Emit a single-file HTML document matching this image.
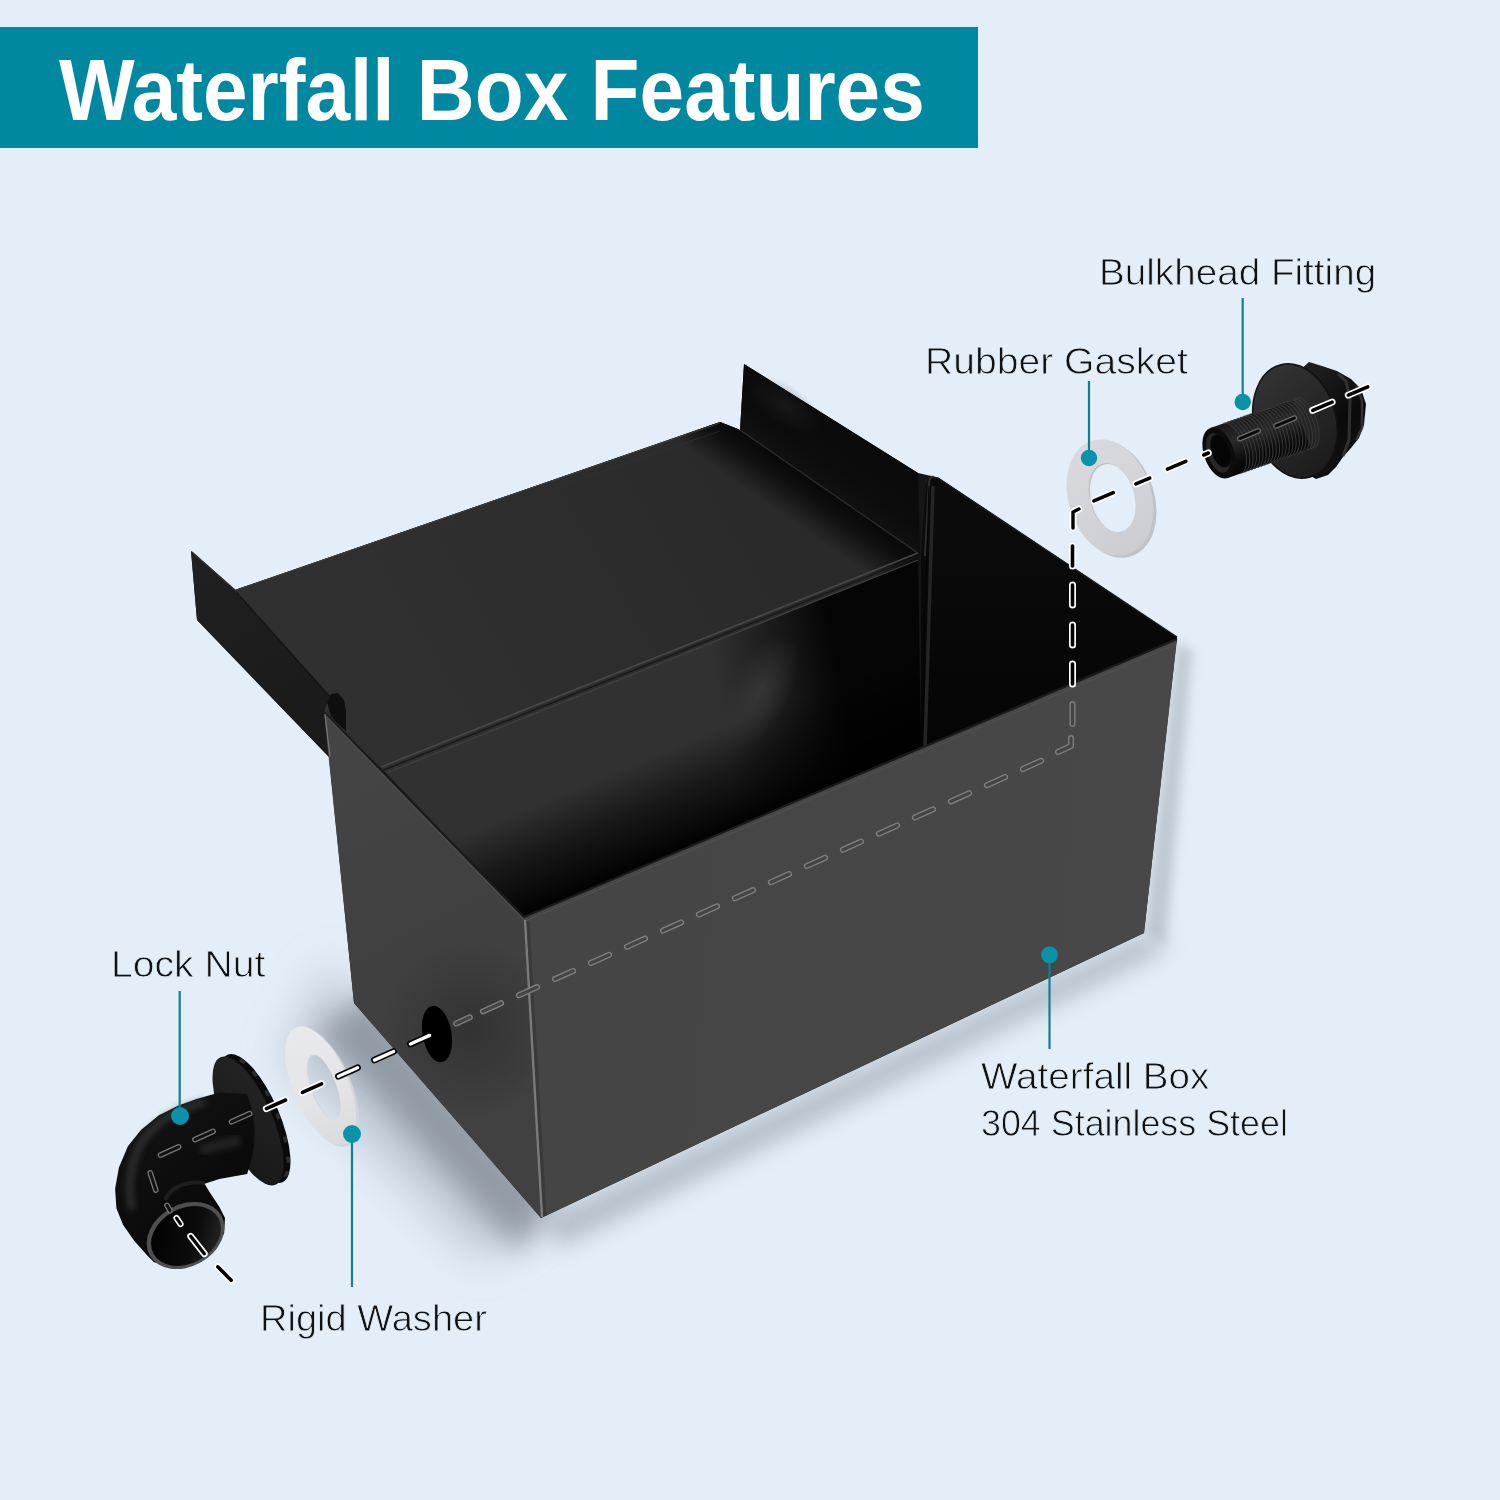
<!DOCTYPE html>
<html><head><meta charset="utf-8">
<style>
html,body{margin:0;padding:0;}
body{width:1500px;height:1500px;overflow:hidden;background:#E3EEF8;position:relative;font-family:"Liberation Sans",sans-serif;}
#banner{position:absolute;left:0;top:27px;width:978px;height:121px;background:#0088A0;}
.t{position:absolute;white-space:nowrap;color:#111;font-family:"Liberation Sans",sans-serif;transform-origin:0 0;line-height:1;}
#title{color:#fff;font-weight:bold;font-size:88px;}
.lb{font-size:36.5px;-webkit-text-stroke:0.8px #E3EEF8;}
svg{position:absolute;left:0;top:0;}
</style></head>
<body>
<svg width="1500" height="1500" viewBox="0 0 1500 1500">
<defs>
<filter id="b20" x="-50%" y="-50%" width="200%" height="200%"><feGaussianBlur stdDeviation="22"/></filter>
<filter id="b12" x="-50%" y="-50%" width="200%" height="200%"><feGaussianBlur stdDeviation="11"/></filter>
<filter id="b14" x="-50%" y="-50%" width="200%" height="200%"><feGaussianBlur stdDeviation="14"/></filter>
<filter id="b6" x="-50%" y="-50%" width="200%" height="200%"><feGaussianBlur stdDeviation="6"/></filter>
<filter id="b3" x="-50%" y="-50%" width="200%" height="200%"><feGaussianBlur stdDeviation="3"/></filter>
<filter id="b1" x="-50%" y="-50%" width="200%" height="200%"><feGaussianBlur stdDeviation="1.2"/></filter>
<linearGradient id="gLid" gradientUnits="userSpaceOnUse" x1="380" y1="700" x2="760" y2="480">
 <stop offset="0" stop-color="#303030"/><stop offset="1" stop-color="#2a2a2a"/></linearGradient>
<linearGradient id="gLidSh" gradientUnits="userSpaceOnUse" x1="829" y1="491.5" x2="803" y2="529">
 <stop offset="0" stop-color="#080808" stop-opacity="1"/><stop offset="0.4" stop-color="#080808" stop-opacity="0.75"/><stop offset="1" stop-color="#080808" stop-opacity="0"/></linearGradient>
<clipPath id="cLid"><polygon points="235,590 720,422 738,429 918,553 918,560 386,773 324,712 330,695"/></clipPath>
<radialGradient id="gRFh"><stop offset="0" stop-color="#2a2a2a" stop-opacity="0.8"/><stop offset="1" stop-color="#2a2a2a" stop-opacity="0"/></radialGradient>
<linearGradient id="gRF" gradientUnits="userSpaceOnUse" x1="760" y1="520" x2="860" y2="380">
 <stop offset="0" stop-color="#1c1c1c"/><stop offset="0.5" stop-color="#0c0c0c"/><stop offset="1" stop-color="#070707"/></linearGradient>
<linearGradient id="gLF" gradientUnits="userSpaceOnUse" x1="200" y1="560" x2="320" y2="740">
 <stop offset="0" stop-color="#202020"/><stop offset="1" stop-color="#1a1a1a"/></linearGradient>
<linearGradient id="gBaf" gradientUnits="userSpaceOnUse" x1="720" y1="700" x2="840" y2="680">
 <stop offset="0" stop-color="#323132"/><stop offset="0.45" stop-color="#1e1e1e"/><stop offset="1" stop-color="#050505"/></linearGradient>
<linearGradient id="gBafV" gradientUnits="userSpaceOnUse" x1="700" y1="843" x2="662" y2="752">
 <stop offset="0" stop-color="#000" stop-opacity="0.97"/><stop offset="0.55" stop-color="#000" stop-opacity="0.5"/><stop offset="1" stop-color="#000" stop-opacity="0"/></linearGradient>
<linearGradient id="gRW" gradientUnits="userSpaceOnUse" x1="1000" y1="520" x2="1000" y2="740">
 <stop offset="0" stop-color="#0b0b0b"/><stop offset="1" stop-color="#050505"/></linearGradient>
<linearGradient id="gLeft" gradientUnits="userSpaceOnUse" x1="330" y1="760" x2="540" y2="1150">
 <stop offset="0" stop-color="#444444"/><stop offset="0.5" stop-color="#404040"/><stop offset="1" stop-color="#414141"/></linearGradient>
<radialGradient id="gHoleSh" gradientUnits="userSpaceOnUse" cx="470" cy="1030" r="90">
 <stop offset="0" stop-color="#000" stop-opacity="0.22"/><stop offset="1" stop-color="#000" stop-opacity="0"/></radialGradient>
<linearGradient id="gFront" gradientUnits="userSpaceOnUse" x1="540" y1="900" x2="1150" y2="950">
 <stop offset="0" stop-color="#454545"/><stop offset="1" stop-color="#484848"/></linearGradient>
<radialGradient id="gGlow">
 <stop offset="0" stop-color="#3c3c3c" stop-opacity="0.75"/><stop offset="1" stop-color="#3c3c3c" stop-opacity="0"/></radialGradient>
<linearGradient id="gWash" x1="0" y1="0" x2="1" y2="1">
 <stop offset="0" stop-color="#ececee"/><stop offset="1" stop-color="#dcdde0"/></linearGradient>
<linearGradient id="gGask" x1="0" y1="0" x2="1" y2="1">
 <stop offset="0" stop-color="#d6d8dc"/><stop offset="1" stop-color="#cfd1d5"/></linearGradient>
<pattern id="thr" patternUnits="userSpaceOnUse" width="5" height="40" patternTransform="rotate(-18)">
 <rect width="5" height="40" fill="#0d0d0d"/><rect x="0" width="1.6" height="40" fill="#3a3a3a"/></pattern>
</defs>
<polygon points="330,960 357,1007 541,1218 480,1262 280,1060" fill="#a3adb9" opacity="0.55" filter="url(#b20)"/>
<polygon points="372,990 556,1198 520,1252 318,1032" fill="#7f8893" opacity="0.75" filter="url(#b14)"/>
<polygon points="541,1218 1144,933 1168,950 560,1248" fill="#98a2ae" opacity="0.6" filter="url(#b12)"/>
<polygon points="1144,933 1177,641 1192,652 1166,946" fill="#a0a9b4" opacity="0.55" filter="url(#b6)"/>
<polygon points="191,551 235,590 720,422 740,430 744,364 918,473 938,477.5 1177,637 1144,933 541,1218 354,1003 329,757 197,620" fill="#151515"/>
<polygon points="191,551 235,590 330,695 329,757 197,620" fill="url(#gLF)"/>
<polygon points="235,590 720,422 738,429 918,553 918,560 386,773 324,712 330,695" fill="url(#gLid)"/>
<polygon points="700,400 940,560 900,640 660,480" fill="url(#gLidSh)" clip-path="url(#cLid)"/>
<polygon points="744,364 918,473 920,556 740,430" fill="url(#gRF)"/>
<ellipse cx="785" cy="405" rx="45" ry="20" fill="url(#gRFh)" opacity="0.5" transform="rotate(34 785 405)"/>
<polygon points="926,484 929,479 938,477.5 1177,637 1177,642 921,750 921,556" fill="url(#gRW)"/>
<polygon points="386,773 918,560 921,750 524,917" fill="url(#gBaf)"/>
<polygon points="386,773 918,560 921,750 524,917" fill="url(#gBafV)"/>
<ellipse cx="760" cy="692" rx="62" ry="30" fill="url(#gGlow)" transform="rotate(-62 760 692)"/>
<polyline points="381,767 918,553" stroke="#484848" stroke-width="1.5" fill="none"/>
<polyline points="383.5,770 918,556.5" stroke="#1a1a1a" stroke-width="1.6" fill="none"/>
<polyline points="386.5,773 918,560" stroke="#404040" stroke-width="1.3" fill="none"/>
<polyline points="740,430 918,553" stroke="#2e2e2e" stroke-width="1.2" fill="none"/>
<polyline points="236,590 720,423" stroke="#3a3a3a" stroke-width="1.2" fill="none"/>
<polyline points="192,552 235,590 330,695" stroke="#303030" stroke-width="1.2" fill="none"/>
<polyline points="237,593 330,697" stroke="#141414" stroke-width="1.4" fill="none"/>
<polyline points="238,597 720,431" stroke="#333" stroke-width="1" fill="none" opacity="0.6"/>
<path d="M925,556 L929,482 Q930,476 934,477" stroke="#2c2c2c" stroke-width="2.2" fill="none"/>
<line x1="933" y1="486" x2="925" y2="748" stroke="#242424" stroke-width="3.5"/>
<line x1="929" y1="486" x2="921.5" y2="748" stroke="#050505" stroke-width="1.2"/>
<polygon points="324,712 524,917 541,1218 354,1003" fill="url(#gLeft)"/>
<polygon points="324,712 524,917 541,1218 354,1003" fill="url(#gHoleSh)"/>
<polygon points="524,917 1177,639 1144,933 541,1218" fill="url(#gFront)"/>
<polyline points="324,712 524,917 1177,639" stroke="#1a1a1a" stroke-width="2.2" fill="none" stroke-linejoin="round"/>
<polyline points="326,716 525,921 1176,644" stroke="#505050" stroke-width="1.1" fill="none" stroke-linejoin="round"/>
<line x1="325" y1="714" x2="330" y2="757" stroke="#777" stroke-width="1.2"/>
<line x1="525" y1="920" x2="542" y2="1217" stroke="#7a7a7a" stroke-width="2.4"/>
<line x1="528" y1="921" x2="545" y2="1216" stroke="#363636" stroke-width="3" opacity="0.7"/>
<line x1="938" y1="478" x2="1177" y2="637" stroke="#1e1e1e" stroke-width="1.5"/>
<path d="M327,702 L331,694 L338,693 L344,700 L346,712 L346,731 L338,724 L331,716 Z" fill="#0e0e0e"/>
<ellipse cx="437" cy="1034" rx="14.5" ry="28.5" fill="#000" transform="rotate(-10 437 1034)"/>
<line x1="456.2" y1="1023.5" x2="469.8" y2="1017.3" stroke="#7e7e7e" stroke-width="6.0" stroke-linecap="round"/><line x1="456.2" y1="1023.5" x2="469.8" y2="1017.3" stroke="#444" stroke-width="3.2" stroke-linecap="round"/>
<line x1="482.9" y1="1011.4" x2="501.1" y2="1003.2" stroke="#7e7e7e" stroke-width="6.0" stroke-linecap="round"/><line x1="482.9" y1="1011.4" x2="501.1" y2="1003.2" stroke="#444" stroke-width="3.2" stroke-linecap="round"/>
<line x1="518.9" y1="995.3" x2="537.1" y2="987.1" stroke="#7e7e7e" stroke-width="6.0" stroke-linecap="round"/><line x1="518.9" y1="995.3" x2="537.1" y2="987.1" stroke="#444" stroke-width="3.2" stroke-linecap="round"/>
<line x1="554.9" y1="979.1" x2="573.1" y2="970.9" stroke="#7e7e7e" stroke-width="6.0" stroke-linecap="round"/><line x1="554.9" y1="979.1" x2="573.1" y2="970.9" stroke="#444" stroke-width="3.2" stroke-linecap="round"/>
<line x1="590.9" y1="963.0" x2="609.1" y2="954.8" stroke="#7e7e7e" stroke-width="6.0" stroke-linecap="round"/><line x1="590.9" y1="963.0" x2="609.1" y2="954.8" stroke="#444" stroke-width="3.2" stroke-linecap="round"/>
<line x1="626.9" y1="946.8" x2="645.1" y2="938.6" stroke="#7e7e7e" stroke-width="6.0" stroke-linecap="round"/><line x1="626.9" y1="946.8" x2="645.1" y2="938.6" stroke="#444" stroke-width="3.2" stroke-linecap="round"/>
<line x1="662.9" y1="930.6" x2="681.1" y2="922.4" stroke="#7e7e7e" stroke-width="6.0" stroke-linecap="round"/><line x1="662.9" y1="930.6" x2="681.1" y2="922.4" stroke="#444" stroke-width="3.2" stroke-linecap="round"/>
<line x1="698.9" y1="914.5" x2="717.1" y2="906.3" stroke="#7e7e7e" stroke-width="6.0" stroke-linecap="round"/><line x1="698.9" y1="914.5" x2="717.1" y2="906.3" stroke="#444" stroke-width="3.2" stroke-linecap="round"/>
<line x1="734.9" y1="898.3" x2="753.1" y2="890.1" stroke="#7e7e7e" stroke-width="6.0" stroke-linecap="round"/><line x1="734.9" y1="898.3" x2="753.1" y2="890.1" stroke="#444" stroke-width="3.2" stroke-linecap="round"/>
<line x1="770.9" y1="882.2" x2="789.1" y2="874.0" stroke="#7e7e7e" stroke-width="6.0" stroke-linecap="round"/><line x1="770.9" y1="882.2" x2="789.1" y2="874.0" stroke="#444" stroke-width="3.2" stroke-linecap="round"/>
<line x1="806.9" y1="866.0" x2="825.1" y2="857.8" stroke="#7e7e7e" stroke-width="6.0" stroke-linecap="round"/><line x1="806.9" y1="866.0" x2="825.1" y2="857.8" stroke="#444" stroke-width="3.2" stroke-linecap="round"/>
<line x1="842.9" y1="849.8" x2="861.1" y2="841.6" stroke="#7e7e7e" stroke-width="6.0" stroke-linecap="round"/><line x1="842.9" y1="849.8" x2="861.1" y2="841.6" stroke="#444" stroke-width="3.2" stroke-linecap="round"/>
<line x1="878.9" y1="833.7" x2="897.1" y2="825.5" stroke="#7e7e7e" stroke-width="6.0" stroke-linecap="round"/><line x1="878.9" y1="833.7" x2="897.1" y2="825.5" stroke="#444" stroke-width="3.2" stroke-linecap="round"/>
<line x1="914.9" y1="817.5" x2="933.1" y2="809.3" stroke="#7e7e7e" stroke-width="6.0" stroke-linecap="round"/><line x1="914.9" y1="817.5" x2="933.1" y2="809.3" stroke="#444" stroke-width="3.2" stroke-linecap="round"/>
<line x1="950.9" y1="801.4" x2="969.1" y2="793.2" stroke="#7e7e7e" stroke-width="6.0" stroke-linecap="round"/><line x1="950.9" y1="801.4" x2="969.1" y2="793.2" stroke="#444" stroke-width="3.2" stroke-linecap="round"/>
<line x1="986.9" y1="785.2" x2="1005.1" y2="777.0" stroke="#7e7e7e" stroke-width="6.0" stroke-linecap="round"/><line x1="986.9" y1="785.2" x2="1005.1" y2="777.0" stroke="#444" stroke-width="3.2" stroke-linecap="round"/>
<line x1="1022.9" y1="769.0" x2="1041.1" y2="760.8" stroke="#7e7e7e" stroke-width="6.0" stroke-linecap="round"/><line x1="1022.9" y1="769.0" x2="1041.1" y2="760.8" stroke="#444" stroke-width="3.2" stroke-linecap="round"/>
<path d="M1058,752 L1071,746 L1071,738" stroke="#7e7e7e" stroke-width="6" fill="none" stroke-linecap="round" stroke-linejoin="round"/>
<path d="M1058,752 L1071,746 L1071,738" stroke="#444" stroke-width="3.2" fill="none" stroke-linecap="round" stroke-linejoin="round"/>
<defs>
<linearGradient id="gDisk" gradientUnits="userSpaceOnUse" x1="1260" y1="370" x2="1320" y2="480">
 <stop offset="0" stop-color="#343434"/><stop offset="1" stop-color="#1a1a1a"/></linearGradient>
<linearGradient id="gTube" gradientUnits="userSpaceOnUse" x1="1251" y1="416" x2="1269" y2="466">
 <stop offset="0" stop-color="#1a1a1a"/><stop offset="0.35" stop-color="#2a2a2a"/><stop offset="0.7" stop-color="#0c0c0c"/><stop offset="1" stop-color="#050505"/></linearGradient>
<pattern id="thr" patternUnits="userSpaceOnUse" width="4.2" height="60" patternTransform="rotate(12)">
 <rect width="4.2" height="60" fill="#000" fill-opacity="0"/><rect x="0" width="1.5" height="60" fill="#000" fill-opacity="0.75"/></pattern>
<linearGradient id="gNut" gradientUnits="userSpaceOnUse" x1="1300" y1="380" x2="1365" y2="470">
 <stop offset="0" stop-color="#1e1e1e"/><stop offset="0.5" stop-color="#0a0a0a"/><stop offset="1" stop-color="#151515"/></linearGradient>
<linearGradient id="gElb" gradientUnits="userSpaceOnUse" x1="120" y1="1120" x2="230" y2="1250">
 <stop offset="0" stop-color="#141414"/><stop offset="1" stop-color="#050505"/></linearGradient>
<linearGradient id="gElIn" gradientUnits="userSpaceOnUse" x1="160" y1="1210" x2="215" y2="1265">
 <stop offset="0" stop-color="#020202"/><stop offset="0.6" stop-color="#0c0c0c"/><stop offset="1" stop-color="#2a2a2a"/></linearGradient>
<linearGradient id="gLN" gradientUnits="userSpaceOnUse" x1="215" y1="1060" x2="280" y2="1180">
 <stop offset="0" stop-color="#262626"/><stop offset="1" stop-color="#161616"/></linearGradient>
<linearGradient id="gGk" gradientUnits="userSpaceOnUse" x1="1070" y1="440" x2="1150" y2="560">
 <stop offset="0" stop-color="#d9dbdf"/><stop offset="0.5" stop-color="#d2d4d8"/><stop offset="1" stop-color="#c9cbd0"/></linearGradient>
<linearGradient id="gWs" gradientUnits="userSpaceOnUse" x1="290" y1="1025" x2="350" y2="1145">
 <stop offset="0" stop-color="#e9eaec"/><stop offset="0.6" stop-color="#e3e4e6"/><stop offset="1" stop-color="#d9dadc"/></linearGradient>
</defs>
<path d="M1130.99,556.21 A59.5,41 72.4 1 1 1095.01,442.79 A59.5,41 72.4 1 1 1130.99,556.21 Z M1123.32,532.30 A35.2,22 73.8 1 1 1103.68,464.70 A35.2,22 73.8 1 1 1123.32,532.30 Z" fill="#bfc2c7" fill-rule="evenodd"/>
<path d="M1127.99,554.21 A59.5,41 72.4 1 1 1092.01,440.79 A59.5,41 72.4 1 1 1127.99,554.21 Z M1121.82,531.30 A35.2,22 73.8 1 1 1102.18,463.70 A35.2,22 73.8 1 1 1121.82,531.30 Z" fill="url(#gGk)" fill-rule="evenodd"/>
<path d="M1298,372 L1309,362 L1322,366 L1337,371 L1351,379 L1361,389 L1366,404 L1364,425 L1359,438 L1351,448 L1343,457 L1336,467 L1328,475 L1316,479 L1300,470 Z" fill="url(#gNut)"/>
<path d="M1338,374 L1346,381 L1350,400 L1349,440 L1343,456" stroke="#3a3a3a" stroke-width="3" fill="none" opacity="0.8"/>
<path d="M1356,386 L1362,400 L1362,428 L1356,440" stroke="#3c3c3c" stroke-width="2.5" fill="none" opacity="0.8"/>
<ellipse cx="1295" cy="421" rx="41" ry="58" transform="rotate(-14.3 1295 421)" fill="url(#gDisk)"/>
<ellipse cx="1295" cy="421" rx="41" ry="58" transform="rotate(-14.3 1295 421)" fill="none" stroke="#111" stroke-width="1.5"/>
<path d="M1210.3,428.0 L1293.3,399.0 L1310.7,449.0 L1227.7,478.0 Z" fill="url(#gTube)"/>
<polyline points="1223.5,423.4 1225.6,423.1 1227.9,423.5 1230.3,424.7 1232.8,426.7 1235.3,429.3 1237.7,432.4 1239.9,436.1 1241.9,440.1 1243.5,444.4 1244.9,448.8 1245.9,453.2 1246.4,457.5 1246.5,461.4 1246.2,465.0 1245.5,468.1 1244.3,470.5 1242.8,472.3 1241.0,473.4" fill="none" stroke="#3a3a3a" stroke-width="1.1" opacity="0.9"/>
<polyline points="1226.8,422.2 1228.9,421.9 1231.2,422.4 1233.6,423.6 1236.1,425.5 1238.6,428.1 1241.0,431.3 1243.2,435.0 1245.2,439.0 1246.8,443.3 1248.2,447.7 1249.2,452.1 1249.7,456.3 1249.8,460.3 1249.5,463.8 1248.8,466.9 1247.6,469.4 1246.1,471.2 1244.3,472.2" fill="none" stroke="#3a3a3a" stroke-width="1.1" opacity="0.9"/>
<polyline points="1230.1,421.1 1232.2,420.7 1234.5,421.2 1236.9,422.4 1239.4,424.4 1241.9,427.0 1244.3,430.1 1246.5,433.8 1248.5,437.8 1250.2,442.1 1251.5,446.5 1252.5,450.9 1253.0,455.2 1253.1,459.1 1252.8,462.7 1252.1,465.8 1250.9,468.2 1249.4,470.0 1247.6,471.1" fill="none" stroke="#3a3a3a" stroke-width="1.1" opacity="0.9"/>
<polyline points="1233.4,419.9 1235.5,419.6 1237.8,420.1 1240.2,421.3 1242.7,423.2 1245.2,425.8 1247.6,429.0 1249.8,432.6 1251.8,436.7 1253.5,441.0 1254.8,445.4 1255.8,449.8 1256.3,454.0 1256.4,458.0 1256.1,461.5 1255.4,464.6 1254.2,467.1 1252.7,468.9 1250.9,469.9" fill="none" stroke="#3a3a3a" stroke-width="1.1" opacity="0.9"/>
<polyline points="1236.7,418.7 1238.8,418.4 1241.1,418.9 1243.5,420.1 1246.0,422.1 1248.5,424.7 1250.9,427.8 1253.1,431.5 1255.1,435.5 1256.8,439.8 1258.1,444.2 1259.1,448.6 1259.6,452.8 1259.7,456.8 1259.4,460.4 1258.7,463.5 1257.5,465.9 1256.0,467.7 1254.2,468.8" fill="none" stroke="#3a3a3a" stroke-width="1.1" opacity="0.9"/>
<polyline points="1240.0,417.6 1242.1,417.3 1244.4,417.7 1246.8,419.0 1249.3,420.9 1251.8,423.5 1254.2,426.7 1256.4,430.3 1258.4,434.4 1260.1,438.7 1261.4,443.1 1262.4,447.4 1262.9,451.7 1263.0,455.7 1262.7,459.2 1262.0,462.3 1260.8,464.8 1259.3,466.6 1257.5,467.6" fill="none" stroke="#3a3a3a" stroke-width="1.1" opacity="0.9"/>
<polyline points="1243.3,416.4 1245.4,416.1 1247.7,416.6 1250.1,417.8 1252.6,419.7 1255.1,422.3 1257.5,425.5 1259.7,429.2 1261.7,433.2 1263.4,437.5 1264.7,441.9 1265.7,446.3 1266.2,450.5 1266.3,454.5 1266.0,458.1 1265.3,461.1 1264.1,463.6 1262.6,465.4 1260.8,466.5" fill="none" stroke="#3a3a3a" stroke-width="1.1" opacity="0.9"/>
<polyline points="1246.6,415.3 1248.7,415.0 1251.0,415.4 1253.4,416.7 1255.9,418.6 1258.4,421.2 1260.8,424.4 1263.0,428.0 1265.0,432.1 1266.7,436.3 1268.0,440.7 1269.0,445.1 1269.5,449.4 1269.6,453.3 1269.3,456.9 1268.6,460.0 1267.4,462.5 1265.9,464.3 1264.1,465.3" fill="none" stroke="#3a3a3a" stroke-width="1.1" opacity="0.9"/>
<polyline points="1249.9,414.1 1252.0,413.8 1254.3,414.3 1256.7,415.5 1259.2,417.4 1261.7,420.0 1264.1,423.2 1266.3,426.9 1268.3,430.9 1270.0,435.2 1271.3,439.6 1272.3,444.0 1272.8,448.2 1272.9,452.2 1272.6,455.8 1271.9,458.8 1270.7,461.3 1269.2,463.1 1267.4,464.2" fill="none" stroke="#3a3a3a" stroke-width="1.1" opacity="0.9"/>
<polyline points="1253.2,413.0 1255.3,412.7 1257.6,413.1 1260.0,414.3 1262.5,416.3 1265.0,418.9 1267.4,422.1 1269.6,425.7 1271.6,429.7 1273.3,434.0 1274.6,438.4 1275.6,442.8 1276.1,447.1 1276.3,451.0 1275.9,454.6 1275.2,457.7 1274.0,460.1 1272.5,461.9 1270.7,463.0" fill="none" stroke="#3a3a3a" stroke-width="1.1" opacity="0.9"/>
<polyline points="1256.5,411.8 1258.6,411.5 1260.9,412.0 1263.4,413.2 1265.8,415.1 1268.3,417.7 1270.7,420.9 1272.9,424.6 1274.9,428.6 1276.6,432.9 1277.9,437.3 1278.9,441.7 1279.4,445.9 1279.6,449.9 1279.2,453.5 1278.5,456.5 1277.3,459.0 1275.8,460.8 1274.0,461.9" fill="none" stroke="#3a3a3a" stroke-width="1.1" opacity="0.9"/>
<polyline points="1259.8,410.7 1261.9,410.4 1264.2,410.8 1266.7,412.0 1269.1,414.0 1271.6,416.6 1274.0,419.7 1276.2,423.4 1278.2,427.4 1279.9,431.7 1281.2,436.1 1282.2,440.5 1282.7,444.8 1282.9,448.7 1282.5,452.3 1281.8,455.4 1280.7,457.8 1279.1,459.6 1277.3,460.7" fill="none" stroke="#3a3a3a" stroke-width="1.1" opacity="0.9"/>
<polyline points="1263.1,409.5 1265.2,409.2 1267.5,409.7 1270.0,410.9 1272.5,412.8 1274.9,415.4 1277.3,418.6 1279.5,422.3 1281.5,426.3 1283.2,430.6 1284.5,435.0 1285.5,439.4 1286.0,443.6 1286.2,447.6 1285.8,451.1 1285.1,454.2 1284.0,456.7 1282.4,458.5 1280.6,459.5" fill="none" stroke="#3a3a3a" stroke-width="1.1" opacity="0.9"/>
<polyline points="1266.4,408.4 1268.5,408.1 1270.8,408.5 1273.3,409.7 1275.8,411.7 1278.2,414.3 1280.6,417.4 1282.8,421.1 1284.8,425.1 1286.5,429.4 1287.8,433.8 1288.8,438.2 1289.4,442.5 1289.5,446.4 1289.1,450.0 1288.4,453.1 1287.3,455.5 1285.7,457.3 1283.9,458.4" fill="none" stroke="#3a3a3a" stroke-width="1.1" opacity="0.9"/>
<polyline points="1269.7,407.2 1271.8,406.9 1274.1,407.4 1276.6,408.6 1279.1,410.5 1281.5,413.1 1283.9,416.3 1286.1,419.9 1288.1,424.0 1289.8,428.3 1291.1,432.7 1292.1,437.1 1292.7,441.3 1292.8,445.3 1292.5,448.8 1291.7,451.9 1290.6,454.4 1289.0,456.2 1287.2,457.2" fill="none" stroke="#3a3a3a" stroke-width="1.1" opacity="0.9"/>
<polyline points="1273.0,406.0 1275.1,405.7 1277.4,406.2 1279.9,407.4 1282.4,409.4 1284.8,412.0 1287.2,415.1 1289.4,418.8 1291.4,422.8 1293.1,427.1 1294.5,431.5 1295.4,435.9 1296.0,440.1 1296.1,444.1 1295.8,447.7 1295.0,450.8 1293.9,453.2 1292.4,455.0 1290.5,456.1" fill="none" stroke="#3a3a3a" stroke-width="1.1" opacity="0.9"/>
<polyline points="1276.3,404.9 1278.4,404.6 1280.7,405.0 1283.2,406.3 1285.7,408.2 1288.1,410.8 1290.5,414.0 1292.7,417.6 1294.7,421.7 1296.4,426.0 1297.8,430.4 1298.7,434.7 1299.3,439.0 1299.4,443.0 1299.1,446.5 1298.3,449.6 1297.2,452.1 1295.7,453.9 1293.8,454.9" fill="none" stroke="#3a3a3a" stroke-width="1.1" opacity="0.9"/>
<polyline points="1279.6,403.7 1281.7,403.4 1284.0,403.9 1286.5,405.1 1289.0,407.0 1291.4,409.6 1293.8,412.8 1296.0,416.5 1298.0,420.5 1299.7,424.8 1301.1,429.2 1302.0,433.6 1302.6,437.8 1302.7,441.8 1302.4,445.4 1301.6,448.4 1300.5,450.9 1299.0,452.7 1297.1,453.8" fill="none" stroke="#3a3a3a" stroke-width="1.1" opacity="0.9"/>
<polyline points="1282.9,402.6 1285.0,402.3 1287.4,402.7 1289.8,404.0 1292.3,405.9 1294.8,408.5 1297.1,411.7 1299.3,415.3 1301.3,419.4 1303.0,423.6 1304.4,428.0 1305.3,432.4 1305.9,436.7 1306.0,440.7 1305.7,444.2 1304.9,447.3 1303.8,449.8 1302.3,451.6 1300.4,452.6" fill="none" stroke="#3a3a3a" stroke-width="1.1" opacity="0.9"/>
<polyline points="1286.3,401.4 1288.4,401.1 1290.7,401.6 1293.1,402.8 1295.6,404.7 1298.1,407.3 1300.4,410.5 1302.7,414.2 1304.6,418.2 1306.3,422.5 1307.7,426.9 1308.6,431.3 1309.2,435.5 1309.3,439.5 1309.0,443.1 1308.2,446.1 1307.1,448.6 1305.6,450.4 1303.7,451.5" fill="none" stroke="#3a3a3a" stroke-width="1.1" opacity="0.9"/>
<polyline points="1289.6,400.3 1291.7,400.0 1294.0,400.4 1296.4,401.6 1298.9,403.6 1301.4,406.2 1303.7,409.4 1306.0,413.0 1307.9,417.1 1309.6,421.3 1311.0,425.7 1311.9,430.1 1312.5,434.4 1312.6,438.3 1312.3,441.9 1311.5,445.0 1310.4,447.4 1308.9,449.2 1307.0,450.3" fill="none" stroke="#3a3a3a" stroke-width="1.1" opacity="0.9"/>
<polyline points="1292.9,399.1 1295.0,398.8 1297.3,399.3 1299.7,400.5 1302.2,402.4 1304.7,405.0 1307.0,408.2 1309.3,411.9 1311.2,415.9 1312.9,420.2 1314.3,424.6 1315.2,429.0 1315.8,433.2 1315.9,437.2 1315.6,440.8 1314.8,443.8 1313.7,446.3 1312.2,448.1 1310.3,449.2" fill="none" stroke="#3a3a3a" stroke-width="1.1" opacity="0.9"/>
<polyline points="1296.2,398.0 1298.3,397.7 1300.6,398.1 1303.0,399.3 1305.5,401.3 1308.0,403.9 1310.3,407.0 1312.6,410.7 1314.5,414.7 1316.2,419.0 1317.6,423.4 1318.5,427.8 1319.1,432.1 1319.2,436.0 1318.9,439.6 1318.1,442.7 1317.0,445.1 1315.5,446.9 1313.6,448.0" fill="none" stroke="#3a3a3a" stroke-width="1.1" opacity="0.9"/>
<ellipse cx="1219" cy="453" rx="15" ry="26.5" transform="rotate(-19.3 1219 453)" fill="#0b0b0b"/>
<ellipse cx="1218" cy="453" rx="10.5" ry="20.5" transform="rotate(-19.3 1218 453)" fill="#262626"/>
<ellipse cx="1220.5" cy="451" rx="9" ry="17" transform="rotate(-19.3 1220.5 451)" fill="#050505"/>
<path d="M348.11,1145.53 A63,27.5 67.1 1 1 299.09,1029.47 A63,27.5 67.1 1 1 348.11,1145.53 Z M337.15,1121.22 A34.8,12.5 70.1 1 1 313.45,1055.78 A34.8,12.5 70.1 1 1 337.15,1121.22 Z" fill="#d3d4d7" fill-rule="evenodd"/>
<path d="M345.11,1143.53 A63,27.5 67.1 1 1 296.09,1027.47 A63,27.5 67.1 1 1 345.11,1143.53 Z M335.65,1120.22 A34.8,12.5 70.1 1 1 311.95,1054.78 A34.8,12.5 70.1 1 1 335.65,1120.22 Z" fill="url(#gWs)" fill-rule="evenodd"/>
<ellipse cx="255" cy="1118.5" rx="69.4" ry="24.5" transform="rotate(66.7 255 1118.5)" fill="#0a0a0a"/>
<ellipse cx="248" cy="1121" rx="69.4" ry="24.5" transform="rotate(66.7 248 1121)" fill="url(#gLN)"/>
<rect x="239.3" y="1059.3" width="6" height="3.6" fill="#2c2c2c" transform="rotate(36.9 242.3 1061.1)"/>
<rect x="251.7" y="1072.2" width="6" height="3.6" fill="#2c2c2c" transform="rotate(52.2 254.7 1074.0)"/>
<rect x="264.2" y="1091.4" width="6" height="3.6" fill="#2c2c2c" transform="rotate(61.3 267.2 1093.2)"/>
<rect x="274.9" y="1114.4" width="6" height="3.6" fill="#2c2c2c" transform="rotate(68.7 277.9 1116.2)"/>
<rect x="282.3" y="1137.7" width="6" height="3.6" fill="#2c2c2c" transform="rotate(76.7 285.3 1139.5)"/>
<rect x="285.2" y="1158.0" width="6" height="3.6" fill="#2c2c2c" transform="rotate(88.2 288.2 1159.8)"/>
<rect x="283.3" y="1172.2" width="6" height="3.6" fill="#2c2c2c" transform="rotate(112.2 286.3 1174.0)"/>
<path d="M219.3,1092.4 L196.5,1098.9 L178.5,1105.4 L158.9,1115.2 L140.9,1129.9 L127.9,1146.3 L118.9,1167.5 L115.1,1188.7 L116.4,1208.3 L123,1224.7 L134.4,1241 L147.5,1255.7 L154,1262.3 L173.6,1267.1 L196.5,1263.9 L216.1,1249.2 L224.2,1232.8 L225,1218.1 L219.3,1206.7 L209.5,1192 L204.6,1183.8 L219.3,1178.9 L247.1,1174 Q262,1134 247.1,1094 Z" fill="url(#gElb)"/>
<path d="M205,1102 Q160,1112 140,1145 Q125,1175 132,1210" stroke="#4a4a4a" stroke-width="7" fill="none" opacity="0.55" filter="url(#b3)"/>
<path d="M200,1150 L240,1140" stroke="#3a3a3a" stroke-width="10" fill="none" opacity="0.5" filter="url(#b3)"/>
<path d="M205,1183 Q175,1180 165,1200" stroke="#2a2a2a" stroke-width="4" fill="none" opacity="0.6"/>
<ellipse cx="185.5" cy="1235.5" rx="41" ry="31" transform="rotate(-29 185.5 1235.5)" fill="#4f4f4f"/>
<ellipse cx="186" cy="1236" rx="37" ry="27.5" transform="rotate(-29 186 1236)" fill="url(#gElIn)"/>
<line x1="410.4" y1="1044.0" x2="429.6" y2="1035.4" stroke="#000" stroke-width="6.6" stroke-linecap="round"/><line x1="410.4" y1="1044.0" x2="429.6" y2="1035.4" stroke="#fff" stroke-width="3.4" stroke-linecap="round"/>
<line x1="374.4" y1="1060.1" x2="393.6" y2="1051.5" stroke="#000" stroke-width="6.6" stroke-linecap="round"/><line x1="374.4" y1="1060.1" x2="393.6" y2="1051.5" stroke="#fff" stroke-width="3.4" stroke-linecap="round"/>
<line x1="338.4" y1="1076.3" x2="357.6" y2="1067.7" stroke="#000" stroke-width="6.6" stroke-linecap="round"/><line x1="338.4" y1="1076.3" x2="357.6" y2="1067.7" stroke="#fff" stroke-width="3.4" stroke-linecap="round"/>
<line x1="302.4" y1="1092.4" x2="321.6" y2="1083.8" stroke="#fff" stroke-width="7.0" stroke-linecap="round"/><line x1="302.4" y1="1092.4" x2="321.6" y2="1083.8" stroke="#000" stroke-width="3.6" stroke-linecap="round"/>
<line x1="266.4" y1="1108.6" x2="285.6" y2="1100.0" stroke="#fff" stroke-width="7.0" stroke-linecap="round"/><line x1="266.4" y1="1108.6" x2="285.6" y2="1100.0" stroke="#000" stroke-width="3.6" stroke-linecap="round"/>
<line x1="231.5" y1="1121.8" x2="249.7" y2="1113.6" stroke="#777" stroke-width="5.6" stroke-linecap="round"/><line x1="231.5" y1="1121.8" x2="249.7" y2="1113.6" stroke="#111" stroke-width="3.0" stroke-linecap="round"/>
<line x1="194.9" y1="1139.6" x2="213.1" y2="1131.4" stroke="#777" stroke-width="5.6" stroke-linecap="round"/><line x1="194.9" y1="1139.6" x2="213.1" y2="1131.4" stroke="#111" stroke-width="3.0" stroke-linecap="round"/>
<line x1="160.4" y1="1155.1" x2="178.6" y2="1146.9" stroke="#777" stroke-width="5.6" stroke-linecap="round"/><line x1="160.4" y1="1155.1" x2="178.6" y2="1146.9" stroke="#111" stroke-width="3.0" stroke-linecap="round"/>
<line x1="150.2" y1="1172.9" x2="155.8" y2="1190.1" stroke="#777" stroke-width="5.6" stroke-linecap="round"/><line x1="150.2" y1="1172.9" x2="155.8" y2="1190.1" stroke="#111" stroke-width="3.0" stroke-linecap="round"/>
<line x1="167.0" y1="1205.4" x2="170.0" y2="1210.6" stroke="#777" stroke-width="5.6" stroke-linecap="round"/><line x1="167.0" y1="1205.4" x2="170.0" y2="1210.6" stroke="#111" stroke-width="3.0" stroke-linecap="round"/>
<line x1="176.5" y1="1218.1" x2="180.5" y2="1223.9" stroke="#fff" stroke-width="6.2" stroke-linecap="round"/><line x1="176.5" y1="1218.1" x2="180.5" y2="1223.9" stroke="#000" stroke-width="3.0" stroke-linecap="round"/>
<line x1="190.7" y1="1236.3" x2="204.3" y2="1253.7" stroke="#fff" stroke-width="6.8" stroke-linecap="round"/><line x1="190.7" y1="1236.3" x2="204.3" y2="1253.7" stroke="#000" stroke-width="3.4" stroke-linecap="round"/>
<line x1="217.8" y1="1266.8" x2="231.2" y2="1280.2" stroke="#fff" stroke-width="7.0" stroke-linecap="round"/><line x1="217.8" y1="1266.8" x2="231.2" y2="1280.2" stroke="#000" stroke-width="3.6" stroke-linecap="round"/>
<line x1="1093.9" y1="500.9" x2="1113.3" y2="492.7" stroke="#fff" stroke-width="7.0" stroke-linecap="round"/><line x1="1093.9" y1="500.9" x2="1113.3" y2="492.7" stroke="#000" stroke-width="3.6" stroke-linecap="round"/>
<line x1="1135.9" y1="483.9" x2="1149.7" y2="478.1" stroke="#fff" stroke-width="7.0" stroke-linecap="round"/><line x1="1135.9" y1="483.9" x2="1149.7" y2="478.1" stroke="#000" stroke-width="3.6" stroke-linecap="round"/>
<line x1="1167.4" y1="469.1" x2="1185.8" y2="461.3" stroke="#fff" stroke-width="7.0" stroke-linecap="round"/><line x1="1167.4" y1="469.1" x2="1185.8" y2="461.3" stroke="#000" stroke-width="3.6" stroke-linecap="round"/>
<line x1="1203.7" y1="455.0" x2="1208.3" y2="453.0" stroke="#fff" stroke-width="7.0" stroke-linecap="round"/><line x1="1203.7" y1="455.0" x2="1208.3" y2="453.0" stroke="#000" stroke-width="3.6" stroke-linecap="round"/>
<line x1="1239.8" y1="438.7" x2="1258.2" y2="430.9" stroke="#6a6a6a" stroke-width="5.6" stroke-linecap="round"/><line x1="1239.8" y1="438.7" x2="1258.2" y2="430.9" stroke="#0a0a0a" stroke-width="3.0" stroke-linecap="round"/>
<line x1="1276.0" y1="425.9" x2="1294.4" y2="418.1" stroke="#6a6a6a" stroke-width="5.6" stroke-linecap="round"/><line x1="1276.0" y1="425.9" x2="1294.4" y2="418.1" stroke="#0a0a0a" stroke-width="3.0" stroke-linecap="round"/>
<line x1="1312.7" y1="410.3" x2="1332.1" y2="402.1" stroke="#fff" stroke-width="7.0" stroke-linecap="round"/><line x1="1312.7" y1="410.3" x2="1332.1" y2="402.1" stroke="#000" stroke-width="3.6" stroke-linecap="round"/>
<line x1="1348.3" y1="395.1" x2="1367.7" y2="386.9" stroke="#fff" stroke-width="7.0" stroke-linecap="round"/><line x1="1348.3" y1="395.1" x2="1367.7" y2="386.9" stroke="#000" stroke-width="3.6" stroke-linecap="round"/>
<line x1="1072.5" y1="704.0" x2="1072.5" y2="724.0" stroke="#7e7e7e" stroke-width="6.0" stroke-linecap="round"/><line x1="1072.5" y1="704.0" x2="1072.5" y2="724.0" stroke="#444" stroke-width="3.2" stroke-linecap="round"/>
<line x1="1072.5" y1="664.0" x2="1072.5" y2="684.0" stroke="#fff" stroke-width="7.0" stroke-linecap="round"/><line x1="1072.5" y1="664.0" x2="1072.5" y2="684.0" stroke="#000" stroke-width="3.6" stroke-linecap="round"/>
<line x1="1072.5" y1="625.0" x2="1072.5" y2="645.0" stroke="#fff" stroke-width="7.0" stroke-linecap="round"/><line x1="1072.5" y1="625.0" x2="1072.5" y2="645.0" stroke="#000" stroke-width="3.6" stroke-linecap="round"/>
<line x1="1072.5" y1="585.0" x2="1072.5" y2="605.0" stroke="#fff" stroke-width="7.0" stroke-linecap="round"/><line x1="1072.5" y1="585.0" x2="1072.5" y2="605.0" stroke="#000" stroke-width="3.6" stroke-linecap="round"/>
<line x1="1072.5" y1="546.0" x2="1072.5" y2="566.0" stroke="#fff" stroke-width="7.0" stroke-linecap="round"/><line x1="1072.5" y1="546.0" x2="1072.5" y2="566.0" stroke="#000" stroke-width="3.6" stroke-linecap="round"/>
<path d="M1073,528 L1073,512 L1079,509" stroke="#fff" stroke-width="7" fill="none" stroke-linecap="round" stroke-linejoin="round"/>
<path d="M1073,528 L1073,512 L1079,509" stroke="#000" stroke-width="3.4" fill="none" stroke-linecap="round" stroke-linejoin="round"/>
<g stroke="#127f91" stroke-width="2.2">
<line x1="1242.7" y1="298" x2="1242.7" y2="402"/>
<line x1="1089" y1="381" x2="1089" y2="458"/>
<line x1="1049.5" y1="955" x2="1049.5" y2="1049"/>
<line x1="179.7" y1="991" x2="179.7" y2="1116"/>
<line x1="352" y1="1134" x2="352" y2="1287"/>
</g>
<g fill="#0a93a8">
<circle cx="1242.7" cy="402" r="8.2"/>
<circle cx="1089" cy="458" r="8.2"/>
<circle cx="1049.5" cy="955" r="8.4"/>
<circle cx="180" cy="1116" r="9"/>
<circle cx="352" cy="1134" r="9"/>
</g>
</svg>
<div id="banner"></div>
<div class="t" id="title" style="left:59px;top:46px;transform:scaleX(0.911);">Waterfall Box Features</div>
<div class="t lb" style="left:1099px;top:254.6px;transform:scaleX(1.059);">Bulkhead Fitting</div>
<div class="t lb" style="left:925px;top:344.2px;transform:scaleX(1.071);">Rubber Gasket</div>
<div class="t lb" style="left:111px;top:946.6px;transform:scaleX(1.071);">Lock Nut</div>
<div class="t lb" style="left:260px;top:1301.2px;transform:scaleX(1.042);">Rigid Washer</div>
<div class="t lb" style="left:981px;top:1059px;transform:scaleX(1.059);">Waterfall Box</div>
<div class="t lb" style="left:981px;top:1106.4px;transform:scaleX(0.982);">304 Stainless Steel</div>
</body></html>
